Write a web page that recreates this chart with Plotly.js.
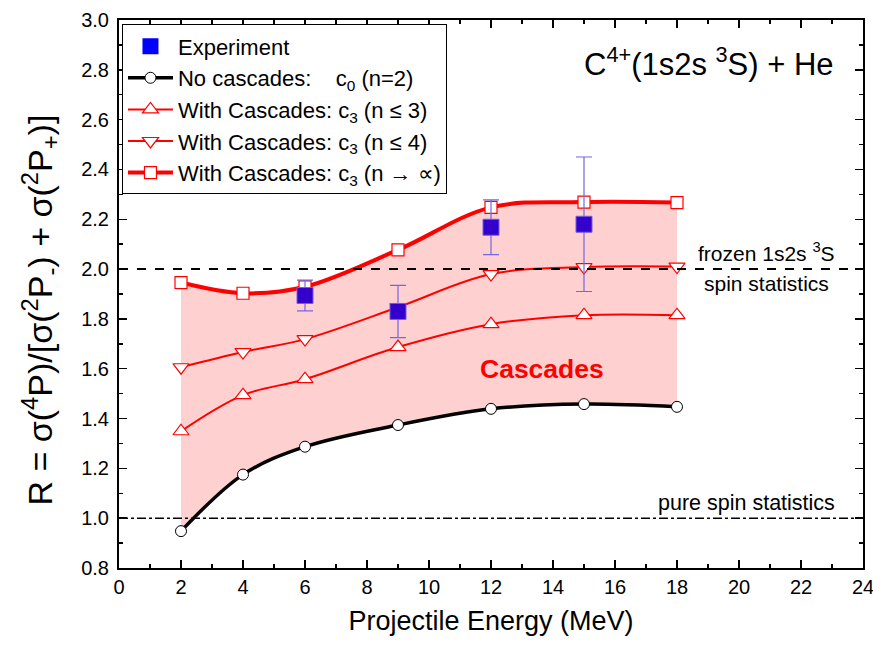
<!DOCTYPE html>
<html>
<head>
<meta charset="utf-8">
<script src="https://cdn.plot.ly/plotly-3.0.1.min.js"></script>
<style>html,body{margin:0;padding:0;background:#fff;}#chart{width:873px;height:648px;}</style>
</head>
<body>
<div id="chart"></div>
<script>
// ---- data ----
const energy = [2, 4, 6, 9, 12, 15, 18];
const noCascades = [0.948, 1.175, 1.287, 1.374, 1.439, 1.458, 1.447];
const cascN3 = [1.349, 1.494, 1.558, 1.687, 1.779, 1.815, 1.815];
const cascN4 = [1.606, 1.667, 1.719, 1.847, 1.980, 2.008, 2.010];
const cascInf = [1.946, 1.903, 1.929, 2.077, 2.248, 2.269, 2.267];
const expEnergy = [6, 9, 12, 15];
const expR = [1.894, 1.830, 2.168, 2.180];
const expErr = [0.062, 0.105, 0.110, 0.270];
const frozenLevel = 2.0;
const pureLevel = 1.0;
const xTicks = [0, 2, 4, 6, 8, 10, 12, 14, 16, 18, 20, 22, 24];
const yTicks = [0.8, 1.0, 1.2, 1.4, 1.6, 1.8, 2.0, 2.2, 2.4, 2.6, 2.8, 3.0];

const FONT = '"Liberation Sans", Arial, sans-serif';
const nb = '\u00a0';

const traces = [
  // shaded cascade region
  {x: energy, y: noCascades, mode: 'lines', line: {shape: 'spline', width: 0, color: 'rgba(0,0,0,0)'},
   showlegend: false, hoverinfo: 'skip'},
  {x: energy, y: cascInf, mode: 'lines', line: {shape: 'spline', width: 0, color: 'rgba(0,0,0,0)'},
   fill: 'tonexty', fillcolor: 'rgb(255,208,208)', showlegend: false, hoverinfo: 'skip'},
  // legend-only experiment entry
  {x: [null], y: [null], mode: 'markers', name: 'Experiment',
   marker: {symbol: 'square', size: 17, color: '#0000ff'}},
  {x: energy, y: noCascades, mode: 'lines+markers', name: 'No cascades:' + nb + nb + nb + nb + 'c<sub>0</sub> (n=2)',
   line: {shape: 'spline', color: '#000', width: 3.5},
   marker: {symbol: 'circle', size: 11, color: '#fff', line: {color: '#000', width: 1}}},
  {x: energy, y: cascN3, mode: 'lines+markers', name: 'With Cascades: c<sub>3</sub> (n ≤ 3)',
   line: {shape: 'spline', color: '#ff0000', width: 2},
   marker: {symbol: 'triangle-up', size: 14, color: '#fff', line: {color: '#ff0000', width: 1.2}}},
  {x: energy, y: cascN4, mode: 'lines+markers', name: 'With Cascades: c<sub>3</sub> (n ≤ 4)',
   line: {shape: 'spline', color: '#ff0000', width: 2},
   marker: {symbol: 'triangle-down', size: 14, color: '#fff', line: {color: '#ff0000', width: 1.2}}},
  {x: energy, y: cascInf, mode: 'lines+markers', name: 'With Cascades: c<sub>3</sub> (n → ∝)',
   line: {shape: 'spline', color: '#ff0000', width: 4},
   marker: {symbol: 'square', size: 12, color: '#fff', line: {color: '#ff0000', width: 1.2}}},
  // experiment data
  {x: expEnergy, y: expR, mode: 'markers', name: 'Experiment', showlegend: false,
   marker: {symbol: 'square', size: 16, color: '#3300cc', line: {color: '#6f5fe0', width: 1}},
   error_y: {type: 'data', array: expErr, visible: true, color: '#7566e6', thickness: 1.2, width: 8}}
];

const layout = {
  width: 873, height: 648,
  margin: {l: 119, r: 10, t: 20, b: 80},
  paper_bgcolor: '#fff', plot_bgcolor: '#fff',
  font: {family: FONT, color: '#000'},
  xaxis: {
    range: [0, 24], tickvals: xTicks, ticktext: xTicks.map(String),
    ticks: 'inside', ticklen: 8, tickwidth: 1.5, tickcolor: '#000',
    minor: {dtick: 1, ticklen: 4, tickcolor: '#000', tickwidth: 1.5, ticks: 'inside'},
    showline: true, linewidth: 2, linecolor: '#000', mirror: 'allticks',
    showgrid: false, zeroline: false, ticklabeloverflow: 'allow',
    tickfont: {size: 20, family: FONT},
    title: {text: 'Projectile Energy (MeV)', font: {size: 27, family: FONT}, standoff: 14}
  },
  yaxis: {
    range: [0.8, 3.0], tickvals: yTicks, ticktext: yTicks.map(v => v.toFixed(1)),
    ticks: 'inside', ticklen: 8, tickwidth: 1.5, tickcolor: '#000',
    minor: {dtick: 0.1, ticklen: 4, tickcolor: '#000', tickwidth: 1.5, ticks: 'inside'},
    showline: true, linewidth: 2, linecolor: '#000', mirror: 'allticks',
    showgrid: false, zeroline: false, ticklabelstandoff: 4,
    tickfont: {size: 20, family: FONT}
  },
  legend: {
    x: 0.004, y: 0.992, xanchor: 'left', yanchor: 'top', traceorder: 'normal',
    bgcolor: '#fff', bordercolor: '#000', borderwidth: 1, itemwidth: 45,
    font: {size: 22, family: FONT}, tracegroupgap: 0
  },
  shapes: [
    {type: 'line', xref: 'paper', x0: 0, x1: 1, yref: 'y', y0: frozenLevel, y1: frozenLevel,
     line: {color: '#000', width: 2, dash: 'dash'}},
    {type: 'line', xref: 'paper', x0: 0, x1: 1, yref: 'y', y0: pureLevel, y1: pureLevel,
     line: {color: '#000', width: 1.5, dash: 'dashdot'}}
  ],
  annotations: [
    {x: -0.106, y: 0.47, xref: 'paper', yref: 'paper', showarrow: false, textangle: -90,
     xanchor: 'center', yanchor: 'middle',
     text: 'R = σ(<sup>4</sup>P)/[σ(<sup>2</sup>P<sub>-</sub>) + σ(<sup>2</sup>P<sub>+</sub>)]',
     font: {size: 34, family: FONT}},
    {x: 19.02, y: 2.83, xref: 'x', yref: 'y', showarrow: false,
     text: 'C<sup>4+</sup>(1s2s <sup>3</sup>S) + He', font: {size: 31, family: FONT}},
    {x: 20.9, y: 2.068, xref: 'x', yref: 'y', showarrow: false,
     text: 'frozen 1s2s <sup>3</sup>S', font: {size: 21, family: FONT}},
    {x: 20.9, y: 1.944, xref: 'x', yref: 'y', showarrow: false,
     text: 'spin statistics', font: {size: 21, family: FONT}},
    {x: 20.25, y: 1.06, xref: 'x', yref: 'y', showarrow: false,
     text: 'pure spin statistics', font: {size: 21.5, family: FONT}},
    {x: 13.65, y: 1.60, xref: 'x', yref: 'y', showarrow: false,
     text: '<b>Cascades</b>', font: {size: 26.5, family: FONT, color: '#ff0000'}}
  ]
};

Plotly.newPlot('chart', traces, layout, {displayModeBar: false, staticPlot: true});
</script>
</body>
</html>
